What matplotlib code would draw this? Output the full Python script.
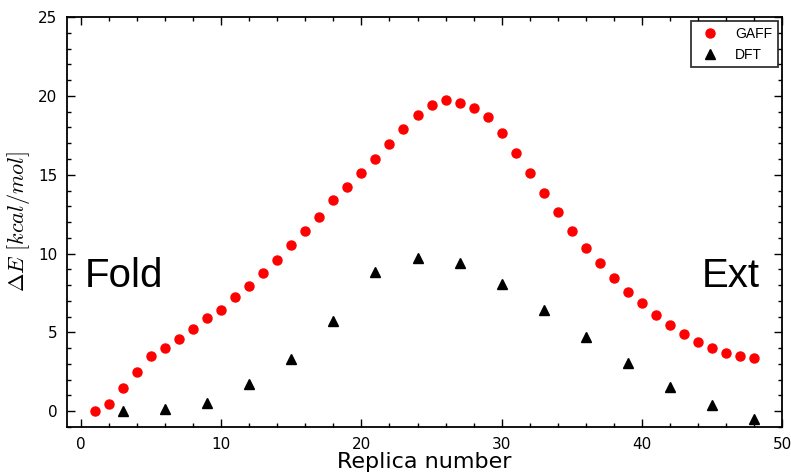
import numpy as np
import matplotlib
matplotlib.use('Agg')
import matplotlib.pyplot as plt
from matplotlib.ticker import MultipleLocator

plt.rcParams['mathtext.fontset'] = 'cm'

# Energie entlang der Replikas (GAFF jede Replika, DFT jede dritte)
gaff_replica = list(range(1, 49))
gaff_energy = [0.0, 0.46, 1.48, 2.47, 3.48, 3.99, 4.56, 5.23, 5.89, 6.43,
               7.26, 7.95, 8.75, 9.62, 10.57, 11.41, 12.34, 13.40, 14.22, 15.10,
               16.03, 16.94, 17.91, 18.82, 19.43, 19.77, 19.54, 19.24, 18.67, 17.64,
               16.41, 15.13, 13.84, 12.62, 11.43, 10.36, 9.39, 8.44, 7.59, 6.84,
               6.08, 5.44, 4.92, 4.41, 3.99, 3.69, 3.50, 3.38]
dft_replica = [3, 6, 9, 12, 15, 18, 21, 24, 27, 30, 33, 36, 39, 42, 45, 48]
dft_energy = [0.0, 0.15, 0.55, 1.73, 3.33, 5.74, 8.86, 9.75,
              9.41, 8.08, 6.41, 4.68, 3.04, 1.52, 0.40, -0.49]

fig = plt.figure(figsize=(7.91, 4.76), dpi=100)
ax = fig.add_axes([0.0847, 0.103, 0.904, 0.861])

ax.plot(gaff_replica, gaff_energy, 'o', color='red', markeredgecolor='red',
        markersize=6.5, label='GAFF')
ax.plot(dft_replica, dft_energy, '^', color='black', markersize=6.5, label='DFT')

ax.set_xlim(-1, 50)
ax.set_ylim(-1, 25)
ax.xaxis.set_major_locator(MultipleLocator(10))
ax.xaxis.set_minor_locator(MultipleLocator(2))
ax.yaxis.set_major_locator(MultipleLocator(5))
ax.yaxis.set_minor_locator(MultipleLocator(1))
ax.tick_params(which='both', direction='in', top=True, right=True, width=1)
ax.tick_params(which='major', length=6, labelsize=11, pad=7)
ax.tick_params(which='minor', length=3)
for sp in ax.spines.values():
    sp.set_linewidth(1.3)

ax.set_xlabel('Replica number', fontsize=16, labelpad=0)
ax.set_ylabel(r'$\Delta E\ [kcal/mol]$', fontsize=16)

ax.text(0.3, 7.87, 'Fold', fontsize=29, family='Liberation Sans')
ax.text(48.4, 7.87, 'Ext', fontsize=29, family='Liberation Sans', ha='right')

leg = ax.legend(loc='upper right', numpoints=1, fancybox=False, edgecolor='black',
                prop={'family': 'Liberation Sans', 'size': 10}, borderaxespad=0.3)
leg.get_frame().set_linewidth(1.3)

fig.savefig('out.png', dpi=100)
